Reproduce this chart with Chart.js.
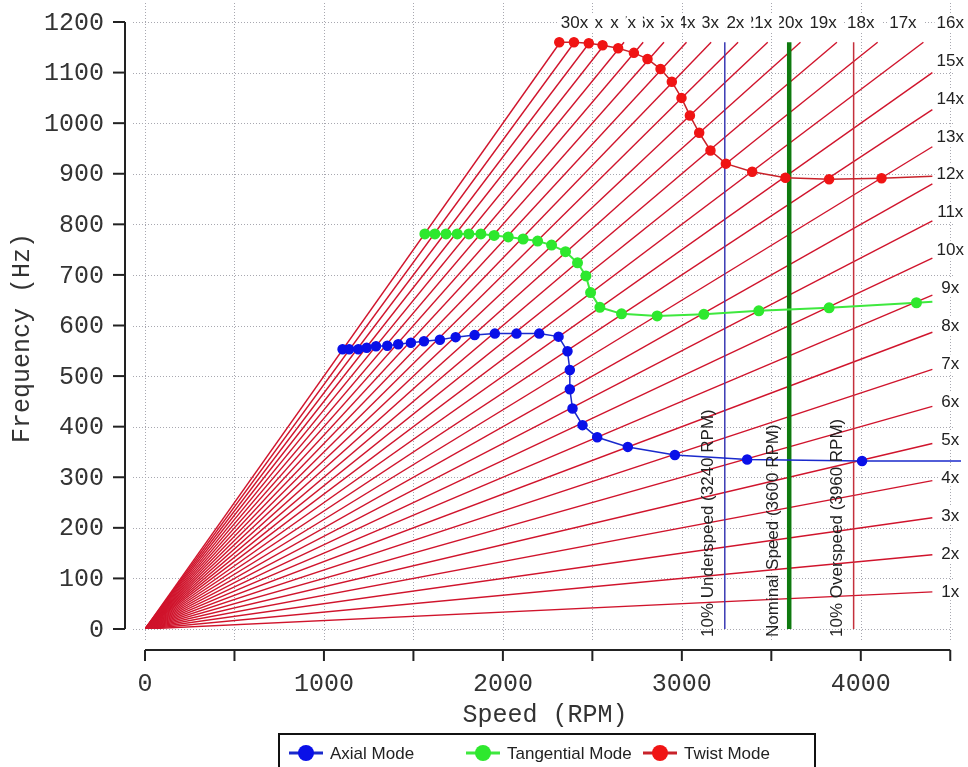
<!DOCTYPE html>
<html>
<head>
<meta charset="utf-8">
<style>
    html, body { margin: 0; padding: 0; background: #fff; }
    #wrap { position: relative; width: 968px; height: 767px; }
</style>
<script src="https://cdn.jsdelivr.net/npm/chart.js@4.4.1/dist/chart.umd.min.js"></script>
</head>
<body>
<div id="wrap"><canvas id="campbell"></canvas></div>
<script>
/* Campbell diagram — blade modes vs. engine order lines */

/* ── data ─────────────────────────────────────────────────── */

const harmonicOrders = [1, 2, 3, 4, 5, 6, 7, 8, 9, 10, 11, 12, 13, 14, 15,
                        16, 17, 18, 19, 20, 21, 22, 23, 24, 25, 26, 27, 28, 29, 30];
const harmonicEndRpm = 4400;     // order lines stop here ...
const harmonicEndHz = 1160;      // ... or here, whichever comes first
const labelEdgeRpm = 4500;       // order labels sit on the frame edge
const labelEdgeHz = 1200;

const axialRpm = [1104, 1141, 1192, 1239, 1291, 1354, 1415, 1486, 1559, 1648, 1736, 1842, 1955,
                  2076, 2203, 2311, 2361, 2374, 2374, 2389, 2445, 2527, 2698, 2961, 3365, 4007, 4560];
const axialHz  = [553, 553, 553, 556, 559, 560, 563, 566, 569, 572, 577, 581, 584,
                  584, 584, 578, 549, 512, 474, 436, 403, 379, 360, 344, 335, 332, 332];

const tangRpm = [1564, 1620, 1682, 1745, 1810, 1877, 1951, 2030, 2113, 2194, 2272, 2350,
                 2417, 2464, 2490, 2542, 2663, 2862, 3123, 3430, 3823, 4311, 4400];
const tangHz  = [781, 781, 781, 781, 781, 781, 778, 775, 771, 767, 759, 746,
                 724, 698, 665, 636, 623, 619, 622, 629, 635, 645, 647];

const twistRpm = [2315, 2397, 2480, 2557, 2644, 2732, 2808, 2881, 2944, 2998, 3045, 3097,
                  3160, 3246, 3393, 3579, 3823, 4116, 4400];
const twistHz  = [1160, 1160, 1158, 1154, 1148, 1139, 1127, 1107, 1082, 1050, 1015, 981,
                  946, 920, 904, 892, 889, 891, 895];

const modeNames = ['Axial Mode', 'Tangential Mode', 'Twist Mode'];

const refSpeeds = [3240, 3600, 3960];
const refLabels = ['10% Underspeed (3240 RPM)', 'Nominal Speed (3600 RPM)', '10% Overspeed (3960 RPM)'];

const xTicks = [0, 500, 1000, 1500, 2000, 2500, 3000, 3500, 4000, 4500];
const xTickLabels = ['0', '', '1000', '', '2000', '', '3000', '', '4000', ''];
const yTicks = [0, 100, 200, 300, 400, 500, 600, 700, 800, 900, 1000, 1100, 1200];

/* ── styles ───────────────────────────────────────────────── */

const MONO = '25px "Liberation Mono", "Courier New", monospace';
const SANS = '17px "Liberation Sans", Arial, sans-serif';
const modeLine  = ['#1a2acc', '#3ee83e', '#c8222a'];
const modePoint = ['#0a10e8', '#2ee82e', '#f01414'];
const modeWidth = [1.5, 2, 1.5];
const refColor = ['#3a3ab4', '#0f7a0f', '#c4303c'];
const refWidth = [1.5, 4.5, 1.5];

/* ── helpers ──────────────────────────────────────────────── */

function toPoints(xs, ys) {
    return xs.map((x, i) => ({ x, y: ys[i] }));
}

function harmonicEnd(n) {
    const rpm = Math.min(harmonicEndRpm, harmonicEndHz * 60 / n);
    return { x: rpm, y: n * rpm / 60 };
}

/* ── datasets ─────────────────────────────────────────────── */

const datasets = [];

[[axialRpm, axialHz], [tangRpm, tangHz], [twistRpm, twistHz]].forEach(([xs, ys], k) => {
    datasets.push({
        label: modeNames[k],
        data: toPoints(xs, ys),
        showLine: true,
        borderColor: modeLine[k],
        borderWidth: modeWidth[k],
        backgroundColor: modePoint[k],
        pointBackgroundColor: modePoint[k],
        pointBorderColor: modePoint[k],
        pointRadius: xs.map((_, i) => i === xs.length - 1 ? 0 : 4.5),
        tension: 0,
        order: 0
    });
});

refSpeeds.forEach((s, k) => {
    datasets.push({
        data: [{ x: s, y: 0 }, { x: s, y: harmonicEndHz }],
        showLine: true,
        borderColor: refColor[k],
        borderWidth: refWidth[k],
        pointRadius: 0,
        order: 1
    });
});

harmonicOrders.forEach(n => {
    datasets.push({
        data: [{ x: 0, y: 0 }, harmonicEnd(n)],
        showLine: true,
        borderColor: '#d0142c',
        borderWidth: 1.4,
        pointRadius: 0,
        order: 2
    });
});

/* ── frame plugin: grid, offset axes, labels, legend ──────── */

const framePlugin = {
    id: 'campbell-frame',
    beforeDatasetsDraw(ch) {
        const { ctx, scales: { x, y } } = ch;
        const x0 = x.getPixelForValue(0), y0 = y.getPixelForValue(0);
        const yTop = y.getPixelForValue(1200);
        const xEnd = x.getPixelForValue(4500);

        ctx.save();
        /* dotted grid */
        ctx.strokeStyle = '#a8a8b0';
        ctx.lineWidth = 1;
        ctx.setLineDash([1, 2]);
        xTicks.forEach(v => {
            const px = Math.round(x.getPixelForValue(v)) + 0.5;
            ctx.beginPath(); ctx.moveTo(px, 3); ctx.lineTo(px, y0 + 11); ctx.stroke();
        });
        yTicks.forEach(v => {
            const py = Math.round(y.getPixelForValue(v)) + 0.5;
            ctx.beginPath(); ctx.moveTo(x0 - 12, py); ctx.lineTo(xEnd + 4, py); ctx.stroke();
        });
        ctx.setLineDash([]);

        /* offset axes */
        ctx.strokeStyle = '#222';
        ctx.lineWidth = 2;
        const ax = x0 - 20, ay = y0 + 21;
        ctx.beginPath(); ctx.moveTo(ax, yTop); ctx.lineTo(ax, y0); ctx.stroke();
        ctx.beginPath(); ctx.moveTo(x0, ay); ctx.lineTo(xEnd, ay); ctx.stroke();

        ctx.font = MONO;
        ctx.fillStyle = '#333';
        ctx.textAlign = 'right';
        ctx.textBaseline = 'middle';
        yTicks.forEach(v => {
            const py = y.getPixelForValue(v);
            ctx.beginPath(); ctx.moveTo(ax - 12, py); ctx.lineTo(ax, py); ctx.stroke();
            ctx.fillText(String(v), ax - 21, py + 1);
        });
        ctx.textAlign = 'center';
        xTicks.forEach((v, i) => {
            const px = x.getPixelForValue(v);
            ctx.beginPath(); ctx.moveTo(px, ay); ctx.lineTo(px, ay + 11); ctx.stroke();
            if (xTickLabels[i]) ctx.fillText(xTickLabels[i], px, ay + 34);
        });

        /* axis titles */
        ctx.fillText('Speed (RPM)', 545, 715);
        ctx.save();
        ctx.translate(22, 338);
        ctx.rotate(-Math.PI / 2);
        ctx.fillText('Frequency (Hz)', 0, 0);
        ctx.restore();
        ctx.restore();
    },

    afterDatasetsDraw(ch) {
        const { ctx, scales: { x, y } } = ch;
        ctx.save();
        ctx.font = SANS;
        ctx.textBaseline = 'middle';

        /* engine-order labels, later ones overlap the previous */
        ctx.textAlign = 'center';
        harmonicOrders.forEach(n => {
            const rpm = Math.min(labelEdgeRpm, labelEdgeHz * 60 / n);
            const px = x.getPixelForValue(rpm);
            const py = y.getPixelForValue(n * rpm / 60);
            const txt = n + 'x';
            const w = ctx.measureText(txt).width;
            ctx.fillStyle = '#fff';
            ctx.fillRect(px - w / 2 - 2, py - 9, w + 9, 18);
            ctx.fillStyle = '#222';
            ctx.fillText(txt, px, py + 1);
        });

        /* speed marker captions, vertical */
        ctx.textAlign = 'left';
        refSpeeds.forEach((s, k) => {
            ctx.save();
            ctx.translate(x.getPixelForValue(s) - 16, 637);
            ctx.rotate(-Math.PI / 2);
            ctx.fillText(refLabels[k], 0, 0);
            ctx.restore();
        });

        /* legend box (cut by the bottom edge) */
        ctx.strokeStyle = '#111';
        ctx.lineWidth = 2;
        ctx.strokeRect(279, 734, 536, 60);
        modeNames.forEach((name, k) => {
            const lx = 289 + k * 177, ly = 753;
            ctx.strokeStyle = modeLine[k];
            ctx.lineWidth = 3;
            ctx.beginPath(); ctx.moveTo(lx, ly); ctx.lineTo(lx + 34, ly); ctx.stroke();
            ctx.fillStyle = modePoint[k];
            ctx.beginPath(); ctx.arc(lx + 17, ly, 8, 0, Math.PI * 2); ctx.fill();
            ctx.fillStyle = '#222';
            ctx.fillText(name, lx + 41, ly + 1);
        });
        ctx.restore();
    }
};

/* ── chart ────────────────────────────────────────────────── */

new Chart(document.getElementById('campbell'), {
    type: 'scatter',
    data: { datasets },
    options: {
        responsive: true,
        maintainAspectRatio: false,
        animation: false,
        events: [],
        layout: { padding: { left: 145, right: 7, top: 22, bottom: 138 } },
        plugins: { legend: { display: false }, tooltip: { enabled: false } },
        scales: {
            x: { type: 'linear', min: 0, max: 4560, display: false },
            y: { type: 'linear', min: 0, max: 1200, display: false }
        }
    },
    plugins: [framePlugin]
});
</script>
</body>
</html>
